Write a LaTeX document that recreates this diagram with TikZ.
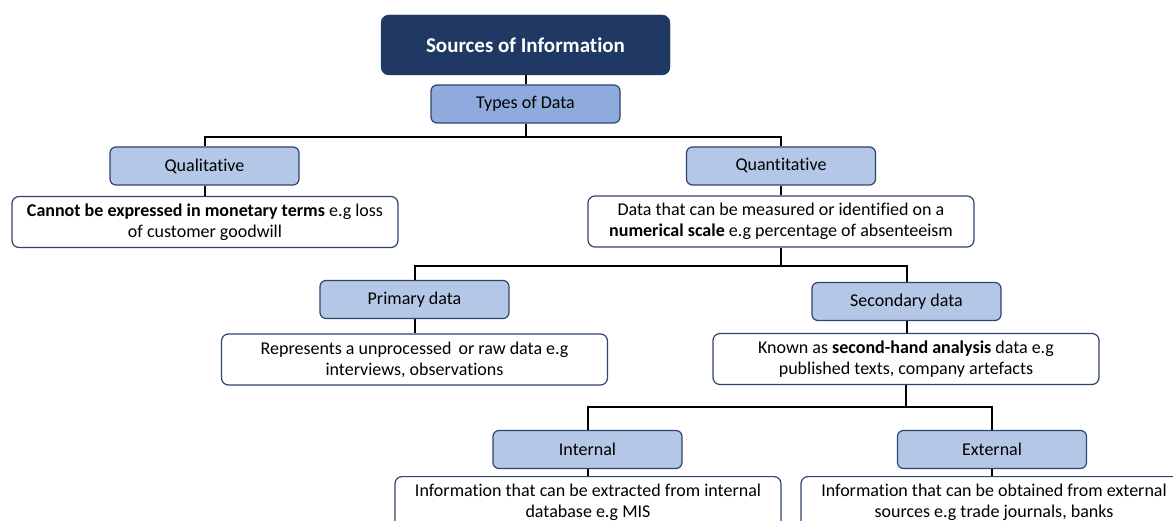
\documentclass[tikz,border=0pt]{standalone}
\usepackage{fontspec}
\setmainfont{Carlito}[Ligatures={NoCommon}]
\definecolor{navy}{HTML}{1F3864}
\definecolor{midblue}{HTML}{8FAADC}
\definecolor{lightblue}{HTML}{B4C7E7}
\definecolor{edgeblue}{HTML}{2F4470}
\begin{document}
\begin{tikzpicture}[x=1pt,y=-1pt,
  titlebox/.style={draw=navy,fill=navy,rounded corners=8pt,minimum width=289pt,minimum height=60pt,
    text=white,font=\fontsize{21}{24}\selectfont\bfseries,inner sep=0pt},
  headbox/.style={draw=edgeblue,line width=1.2pt,fill=lightblue,rounded corners=6pt,minimum width=189pt,minimum height=38pt,
    font=\fontsize{18}{21}\selectfont,inner sep=0pt},
  descbox/.style={draw=edgeblue,line width=1.2pt,fill=white,rounded corners=7pt,minimum width=386pt,minimum height=51pt,
    align=center,font=\fontsize{18}{21}\selectfont,inner sep=0pt},
  link/.style={draw=black,line width=2pt}]
\clip (0,0) rectangle (1173,521);
\fill[white] (0,0) rectangle (1173,521);

% root and first level
\node[titlebox] (src) at (525.5,45) {Sources of Information};
\node[headbox,fill=midblue] (types) at (525.5,104) {Types of Data};
\node[headbox] (qual) at (204.5,166) {Qualitative};
\node[headbox] (quant) at (781,166) {Quantitative};
\node[descbox] (qualdesc) at (205,222) {\textbf{Cannot be expressed in monetary terms} e.g loss\\of customer goodwill};
\node[descbox] (quantdesc) at (781,221.5) {Data that can be measured or identified on a\\\textbf{numerical scale} e.g percentage of absenteeism};

% primary / secondary
\node[headbox] (prim) at (414.5,299.5) {Primary data};
\node[headbox] (sec) at (906.5,301.5) {Secondary data};
\node[descbox] (primdesc) at (414.5,359.5) {Represents a unprocessed\, or raw data e.g\\interviews, observations};
\node[descbox] (secdesc) at (906,359) {Known as \textbf{second-hand analysis} data e.g\\published texts, company artefacts};

% internal / external
\node[headbox] (int) at (587.5,449.5) {Internal};
\node[headbox] (ext) at (992,449.5) {External};
\node[descbox,anchor=north] (intdesc) at (588,476) {Information that can be extracted from internal\\database e.g MIS};
\node[descbox,anchor=north] (extdesc) at (994,476) {Information that can be obtained from external\\sources e.g trade journals, banks};

% connectors
\draw[link] (src.south) -- (types.north);
\draw[link] (types.south) -- ++(0,13) -| (qual.north);
\draw[link] (types.south) -- ++(0,13) -| (quant.north);
\draw[link] (qual.south) -- (qual.south |- qualdesc.north);
\draw[link] (quant.south) -- (quant.south |- quantdesc.north);
\draw[link] (quantdesc.south) -- ++(0,18) -| (prim.north);
\draw[link] (quantdesc.south) -- ++(0,18) -| (sec.north);
\draw[link] (prim.south) -- (prim.south |- primdesc.north);
\draw[link] (sec.south) -- (sec.south |- secdesc.north);
\draw[link] (secdesc.south) -- ++(0,22) -| (int.north);
\draw[link] (secdesc.south) -- ++(0,22) -| (ext.north);
\draw[link] (int.south) -- (int.south |- intdesc.north);
\draw[link] (ext.south) -- (ext.south |- extdesc.north);
\end{tikzpicture}
\end{document}
